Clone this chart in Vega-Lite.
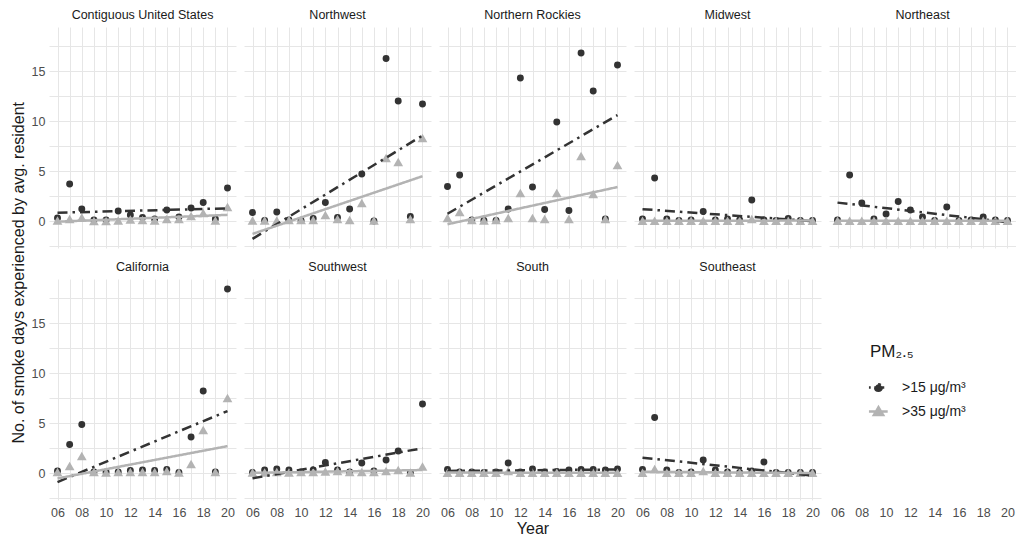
{
 "$schema": "https://vega.github.io/schema/vega-lite/v6.json",
 "padding": {"left": 11, "top": 8, "right": 0, "bottom": 0},
 "background": "white",
 "title": {"text": "No. of smoke days experienced by avg. resident", "orient": "left", "anchor": "middle", "fontSize": 16, "font": "Liberation Sans", "fontWeight": "normal", "color": "#1a1a1a", "offset": 4},
 "datasets": {
  "smoke": [
   {"r":"Contiguous United States","y":2006,"a":0.3,"b":0.05},
   {"r":"Contiguous United States","y":2007,"a":3.7,"b":0.2},
   {"r":"Contiguous United States","y":2008,"a":1.2,"b":0.35},
   {"r":"Contiguous United States","y":2009,"a":0.1,"b":0},
   {"r":"Contiguous United States","y":2010,"a":0.1,"b":0},
   {"r":"Contiguous United States","y":2011,"a":1.0,"b":0.05},
   {"r":"Contiguous United States","y":2012,"a":0.6,"b":0.15},
   {"r":"Contiguous United States","y":2013,"a":0.35,"b":0.1},
   {"r":"Contiguous United States","y":2014,"a":0.2,"b":0.05},
   {"r":"Contiguous United States","y":2015,"a":1.1,"b":0.2},
   {"r":"Contiguous United States","y":2016,"a":0.4,"b":0.2},
   {"r":"Contiguous United States","y":2017,"a":1.3,"b":0.5},
   {"r":"Contiguous United States","y":2018,"a":1.85,"b":0.8},
   {"r":"Contiguous United States","y":2019,"a":0.2,"b":0.05},
   {"r":"Contiguous United States","y":2020,"a":3.3,"b":1.4},
   {"r":"Northwest","y":2006,"a":0.85,"b":0.05},
   {"r":"Northwest","y":2007,"a":0.05,"b":0.05},
   {"r":"Northwest","y":2008,"a":0.9,"b":0.05},
   {"r":"Northwest","y":2009,"a":0.1,"b":0.1},
   {"r":"Northwest","y":2010,"a":0.05,"b":0.1},
   {"r":"Northwest","y":2011,"a":0.25,"b":0.1},
   {"r":"Northwest","y":2012,"a":1.85,"b":0.6},
   {"r":"Northwest","y":2013,"a":0.35,"b":0.2},
   {"r":"Northwest","y":2014,"a":1.2,"b":0.1},
   {"r":"Northwest","y":2015,"a":4.7,"b":1.8},
   {"r":"Northwest","y":2016,"a":0.0,"b":0.05},
   {"r":"Northwest","y":2017,"a":16.25,"b":6.3},
   {"r":"Northwest","y":2018,"a":12.0,"b":5.9},
   {"r":"Northwest","y":2019,"a":0.45,"b":0.2},
   {"r":"Northwest","y":2020,"a":11.7,"b":8.3},
   {"r":"Northern Rockies","y":2006,"a":3.45,"b":0.3},
   {"r":"Northern Rockies","y":2007,"a":4.6,"b":0.9},
   {"r":"Northern Rockies","y":2008,"a":0.1,"b":0.1},
   {"r":"Northern Rockies","y":2009,"a":0.05,"b":0.05},
   {"r":"Northern Rockies","y":2010,"a":0.05,"b":0.1},
   {"r":"Northern Rockies","y":2011,"a":1.2,"b":0.3},
   {"r":"Northern Rockies","y":2012,"a":14.3,"b":2.8},
   {"r":"Northern Rockies","y":2013,"a":3.4,"b":0.3},
   {"r":"Northern Rockies","y":2014,"a":1.15,"b":0.2},
   {"r":"Northern Rockies","y":2015,"a":9.9,"b":2.8},
   {"r":"Northern Rockies","y":2016,"a":1.05,"b":0.2},
   {"r":"Northern Rockies","y":2017,"a":16.8,"b":6.5},
   {"r":"Northern Rockies","y":2018,"a":13.0,"b":2.7},
   {"r":"Northern Rockies","y":2019,"a":0.2,"b":0.2},
   {"r":"Northern Rockies","y":2020,"a":15.6,"b":5.6},
   {"r":"Midwest","y":2006,"a":0.2,"b":0.02},
   {"r":"Midwest","y":2007,"a":4.3,"b":0.02},
   {"r":"Midwest","y":2008,"a":0.2,"b":0.02},
   {"r":"Midwest","y":2009,"a":0.05,"b":0.02},
   {"r":"Midwest","y":2010,"a":0.1,"b":0.02},
   {"r":"Midwest","y":2011,"a":0.95,"b":0.02},
   {"r":"Midwest","y":2012,"a":0.1,"b":0.02},
   {"r":"Midwest","y":2013,"a":0.2,"b":0.02},
   {"r":"Midwest","y":2014,"a":0.1,"b":0.02},
   {"r":"Midwest","y":2015,"a":2.1,"b":0.2},
   {"r":"Midwest","y":2016,"a":0.1,"b":0.02},
   {"r":"Midwest","y":2017,"a":0.05,"b":0.02},
   {"r":"Midwest","y":2018,"a":0.25,"b":0.02},
   {"r":"Midwest","y":2019,"a":0.05,"b":0.02},
   {"r":"Midwest","y":2020,"a":0.05,"b":0.02},
   {"r":"Northeast","y":2006,"a":0.1,"b":0.02},
   {"r":"Northeast","y":2007,"a":4.6,"b":0.02},
   {"r":"Northeast","y":2008,"a":1.8,"b":0.02},
   {"r":"Northeast","y":2009,"a":0.2,"b":0.02},
   {"r":"Northeast","y":2010,"a":0.7,"b":0.02},
   {"r":"Northeast","y":2011,"a":1.95,"b":0.02},
   {"r":"Northeast","y":2012,"a":1.1,"b":0.02},
   {"r":"Northeast","y":2013,"a":0.4,"b":0.02},
   {"r":"Northeast","y":2014,"a":0.05,"b":0.02},
   {"r":"Northeast","y":2015,"a":1.4,"b":0.02},
   {"r":"Northeast","y":2016,"a":0.05,"b":0.02},
   {"r":"Northeast","y":2017,"a":0.1,"b":0.02},
   {"r":"Northeast","y":2018,"a":0.4,"b":0.02},
   {"r":"Northeast","y":2019,"a":0.1,"b":0.02},
   {"r":"Northeast","y":2020,"a":0.05,"b":0.02},
   {"r":"California","y":2006,"a":0.2,"b":0.1},
   {"r":"California","y":2007,"a":2.85,"b":0.7},
   {"r":"California","y":2008,"a":4.85,"b":1.7},
   {"r":"California","y":2009,"a":0.1,"b":0.1},
   {"r":"California","y":2010,"a":0.1,"b":0.05},
   {"r":"California","y":2011,"a":0.1,"b":0.1},
   {"r":"California","y":2012,"a":0.25,"b":0.1},
   {"r":"California","y":2013,"a":0.3,"b":0.1},
   {"r":"California","y":2014,"a":0.25,"b":0.1},
   {"r":"California","y":2015,"a":0.35,"b":0.2},
   {"r":"California","y":2016,"a":0.05,"b":0.05},
   {"r":"California","y":2017,"a":3.6,"b":0.9},
   {"r":"California","y":2018,"a":8.2,"b":4.3},
   {"r":"California","y":2019,"a":0.1,"b":0.1},
   {"r":"California","y":2020,"a":18.4,"b":7.5},
   {"r":"Southwest","y":2006,"a":0.05,"b":0.05},
   {"r":"Southwest","y":2007,"a":0.3,"b":0.05},
   {"r":"Southwest","y":2008,"a":0.4,"b":0.1},
   {"r":"Southwest","y":2009,"a":0.3,"b":0.05},
   {"r":"Southwest","y":2010,"a":0.1,"b":0.1},
   {"r":"Southwest","y":2011,"a":0.3,"b":0.1},
   {"r":"Southwest","y":2012,"a":1.05,"b":0.15},
   {"r":"Southwest","y":2013,"a":0.3,"b":0.2},
   {"r":"Southwest","y":2014,"a":0.1,"b":0.1},
   {"r":"Southwest","y":2015,"a":1.0,"b":0.1},
   {"r":"Southwest","y":2016,"a":0.2,"b":0.1},
   {"r":"Southwest","y":2017,"a":1.3,"b":0.2},
   {"r":"Southwest","y":2018,"a":2.2,"b":0.3},
   {"r":"Southwest","y":2019,"a":0.05,"b":0.05},
   {"r":"Southwest","y":2020,"a":6.9,"b":0.65},
   {"r":"South","y":2006,"a":0.35,"b":0.02},
   {"r":"South","y":2007,"a":0.1,"b":0.02},
   {"r":"South","y":2008,"a":0.1,"b":0.02},
   {"r":"South","y":2009,"a":0.05,"b":0.02},
   {"r":"South","y":2010,"a":0.1,"b":0.02},
   {"r":"South","y":2011,"a":1.0,"b":0.2},
   {"r":"South","y":2012,"a":0.1,"b":0.02},
   {"r":"South","y":2013,"a":0.4,"b":0.02},
   {"r":"South","y":2014,"a":0.1,"b":0.02},
   {"r":"South","y":2015,"a":0.15,"b":0.02},
   {"r":"South","y":2016,"a":0.3,"b":0.02},
   {"r":"South","y":2017,"a":0.35,"b":0.02},
   {"r":"South","y":2018,"a":0.35,"b":0.02},
   {"r":"South","y":2019,"a":0.3,"b":0.02},
   {"r":"South","y":2020,"a":0.4,"b":0.02},
   {"r":"Southeast","y":2006,"a":0.35,"b":0.02},
   {"r":"Southeast","y":2007,"a":5.55,"b":0.4},
   {"r":"Southeast","y":2008,"a":0.3,"b":0.02},
   {"r":"Southeast","y":2009,"a":0.05,"b":0.02},
   {"r":"Southeast","y":2010,"a":0.1,"b":0.02},
   {"r":"Southeast","y":2011,"a":1.3,"b":0.2},
   {"r":"Southeast","y":2012,"a":0.3,"b":0.02},
   {"r":"Southeast","y":2013,"a":0.1,"b":0.02},
   {"r":"Southeast","y":2014,"a":0.05,"b":0.02},
   {"r":"Southeast","y":2015,"a":0.2,"b":0.02},
   {"r":"Southeast","y":2016,"a":1.1,"b":0.02},
   {"r":"Southeast","y":2017,"a":0.05,"b":0.02},
   {"r":"Southeast","y":2018,"a":0.05,"b":0.02},
   {"r":"Southeast","y":2019,"a":0.05,"b":0.02},
   {"r":"Southeast","y":2020,"a":0.05,"b":0.02}
  ]
 },
 "data": {"name": "smoke"},
 "transform": [{"fold": ["a", "b"], "as": ["k", "v"]}],
 "facet": {
  "field": "r", "type": "nominal", "title": "Year",
  "sort": ["Contiguous United States", "Northwest", "Northern Rockies", "Midwest", "Northeast", "California", "Southwest", "South", "Southeast"],
  "header": {"titleOrient": "bottom", "labelOrient": "top", "labelFontSize": 12.5, "labelColor": "#1a1a1a", "labelFont": "Liberation Sans", "labelPadding": 6, "titleFontSize": 16, "titleFont": "Liberation Sans", "titleFontWeight": "normal", "titleColor": "#1a1a1a", "titlePadding": 2}
 },
 "columns": 5,
 "spacing": {"column": 8, "row": 12},
 "spec": {
  "width": 187,
  "height": 221,
  "encoding": {
   "x": {"field": "y", "type": "quantitative", "scale": {"domain": [2005.3, 2020.7], "nice": false, "zero": false},
     "axis": {"title": null, "labelPadding": 6, "values": [2006,2007,2008,2009,2010,2011,2012,2013,2014,2015,2016,2017,2018,2019,2020], "labelOverlap": false, "labelExpr": "datum.value % 2 == 0 ? slice(toString(datum.value), 2) : ''"}},
   "y": {"field": "v", "type": "quantitative", "scale": {"domain": [-2.7, 19.4], "nice": false, "zero": false},
     "axis": {"title": null, "values": [-2.5,0,2.5,5,7.5,10,12.5,15,17.5], "labelOverlap": false, "labelExpr": "datum.value % 5 == 0 ? toString(datum.value) : ''"}},
   "color": {"field": "k", "type": "nominal", "scale": {"domain": ["a", "b"], "range": ["#333333", "#b3b3b3"]},
     "legend": {"title": "PM₂.₅", "orient": "none", "legendX": 821, "legendY": 317,
       "labelExpr": "datum.value == 'a' ? '>15 μg/m³' : '>35 μg/m³'",
       "titleFontSize": 17, "titleFont": "Liberation Sans", "titleFontWeight": "normal", "titleColor": "#1a1a1a", "titlePadding": 18,
       "labelFontSize": 14, "labelFont": "Liberation Sans", "labelColor": "#1a1a1a", "labelOffset": 15, "rowPadding": 6,
       "symbolSize": 200,
       "encode": {"symbols": {"update": {
         "shape": {"signal": "datum.value == 'a' ? 'M-1.35,0L-1.1,0M-0.6,0L1.3,0M0.47,0A0.47,0.47,0,1,1,-0.47,0A0.47,0.47,0,1,1,0.47,0Z' : 'M-1.35,0L1.3,0M0,-0.6L0.65,0.5L-0.65,0.5Z'"},
         "stroke": {"signal": "datum.value == 'a' ? '#333333' : '#b3b3b3'"},
         "strokeWidth": {"value": 2.5},
         "strokeDash": {"value": []},
         "opacity": {"value": 1}
       }}}}}
  },
  "layer": [
   {
    "transform": [{"filter": "datum.k == 'a'"}],
    "mark": {"type": "point", "filled": true, "opacity": 1, "shape": "circle", "size": 48}
   },
   {
    "transform": [{"filter": "datum.k == 'b'"}],
    "mark": {"type": "point", "filled": true, "opacity": 1, "shape": "triangle-up", "size": 95}
   },
   {
    "transform": [{"regression": "v", "on": "y", "groupby": ["k"]}],
    "mark": {"type": "line", "strokeWidth": 2.5},
    "encoding": {
     "strokeDash": {"field": "k", "type": "nominal", "scale": {"domain": ["a", "b"], "range": [[10, 5, 2.5, 5], [1, 0]]}, "legend": null}
    }
   }
  ]
 },
 "config": {
  "view": {"stroke": null},
  "axis": {"labelFont": "Liberation Sans", "labelFontSize": 12.5, "labelColor": "#4d4d4d", "gridColor": "#e6e6e6", "gridWidth": 1, "ticks": false, "domain": false, "labelPadding": 4}
 }
}
